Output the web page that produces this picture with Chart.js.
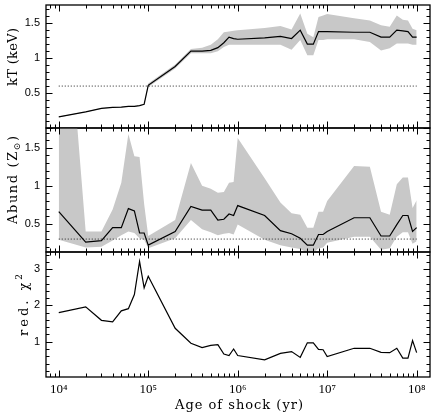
<!DOCTYPE html>
<html><head><meta charset="utf-8">
<script src="https://cdn.jsdelivr.net/npm/chart.js@4/dist/chart.umd.min.js"></script>
<style>
html,body{margin:0;padding:0;background:#fff;}
#wrap{position:relative;width:436px;height:418px;overflow:hidden;background:#fff;}
canvas{position:absolute;left:0;}
</style></head><body>
<div id="wrap">
<canvas id="c1" width="436" height="132" style="top:0px"></canvas>
<canvas id="c2" width="436" height="132" style="top:124px"></canvas>
<canvas id="c3" width="436" height="170" style="top:248px"></canvas>
</div>
<script>
// ---- data ----
const ages = [1e4,2e4,3e4,4e4,5e4,6e4,7e4,8e4,9e4,
              1e5,2e5,3e5,4e5,5e5,6e5,7e5,8e5,9e5,
              1e6,2e6,3e6,4e6,5e6,6e6,7e6,8e6,9e6,
              1e7,2e7,3e7,4e7,5e7,6e7,7e7,8e7,9e7,1e8];
const kT     = [0.16,0.23,0.28,0.295,0.30,0.31,0.31,0.32,0.34,
                0.61,0.88,1.10,1.10,1.11,1.15,1.22,1.30,1.28,
                1.27,1.29,1.31,1.28,1.40,1.20,1.20,1.38,1.38,
                1.38,1.37,1.37,1.30,1.30,1.40,1.39,1.38,1.30,1.30];
const kTLow  = [0.155,0.225,0.275,0.29,0.295,0.305,0.305,0.315,0.335,
                0.585,0.85,1.07,1.07,1.07,1.10,1.16,1.19,1.19,
                1.19,1.19,1.19,1.12,1.26,1.04,1.04,1.26,1.26,
                1.27,1.27,1.23,1.11,1.14,1.21,1.21,1.21,1.19,1.19];
const kTHigh = [0.165,0.235,0.285,0.30,0.305,0.315,0.315,0.325,0.345,
                0.635,0.91,1.13,1.15,1.19,1.27,1.37,1.38,1.39,
                1.40,1.43,1.46,1.41,1.64,1.35,1.30,1.59,1.61,
                1.63,1.57,1.54,1.47,1.45,1.61,1.55,1.54,1.42,1.40];
const abund     = [0.66,0.26,0.28,0.45,0.45,0.70,0.67,0.38,0.38,
                   0.22,0.40,0.73,0.68,0.68,0.55,0.56,0.63,0.61,
                   0.74,0.61,0.41,0.37,0.31,0.22,0.22,0.36,0.36,
                   0.40,0.58,0.58,0.34,0.34,0.49,0.61,0.61,0.40,0.45];
const abundLow  = [0.29,0.19,0.20,0.28,0.35,0.40,0.38,0.31,0.29,
                   0.18,0.31,0.55,0.43,0.39,0.35,0.37,0.38,0.36,
                   0.49,0.29,0.22,0.19,0.17,0.12,0.12,0.18,0.19,
                   0.25,0.33,0.33,0.16,0.18,0.33,0.39,0.39,0.24,0.27];
const abundHigh = [4.8,0.40,0.40,0.69,1.04,1.68,1.39,1.38,0.76,
                   0.34,0.55,1.30,1.00,0.96,0.91,0.92,1.04,1.05,
                   1.63,1.10,0.78,0.64,0.62,0.45,0.45,0.66,0.66,
                   0.80,1.26,1.25,0.66,0.62,1.02,1.11,1.11,0.71,0.81];
const redChi2 = [1.80,1.96,1.59,1.55,1.85,1.91,2.30,3.21,2.48,
                 2.80,1.37,0.96,0.84,0.90,0.92,0.66,0.62,0.80,
                 0.62,0.50,0.68,0.73,0.57,0.97,0.97,0.79,0.78,
                 0.59,0.82,0.82,0.71,0.70,0.82,0.55,0.55,1.03,0.70];
const refAges   = [1e4, 1e8];
const kTRef     = [0.6, 0.6];
const abundRef  = [0.3, 0.3];
const xTickValues = [1e4,1e5,1e6,1e7,1e8];
const xTickLabels = ['10⁴','10⁵','10⁶','10⁷','10⁸'];
const kTTickValues = [0.5,1,1.5];     const kTTickLabels = ['0.5','1','1.5'];
const abTickValues = [0.5,1,1.5];     const abTickLabels = ['0.5','1','1.5'];
const chiTickValues = [1,2,3];        const chiTickLabels = ['1','2','3'];

// ---- plugins ----
const frame = {
  id: 'frame',
  afterDatasetsDraw(chart, args, o) {
    const {ctx, chartArea: a} = chart; const x = chart.scales.x, y = chart.scales.y;
    ctx.save(); ctx.strokeStyle = '#000'; ctx.lineWidth = 1; ctx.beginPath();
    const lo = Math.floor(Math.log10(x.min)), hi = Math.ceil(Math.log10(x.max));
    for (let d = lo; d <= hi; d++) for (let m = 1; m <= 9; m++) {
      const v = m * Math.pow(10, d);
      if (v < x.min || v > x.max) continue;
      const p = Math.round(x.getPixelForValue(v)) + 0.5;
      const len = m === 1 ? o.major : o.minor;
      ctx.moveTo(p, a.top); ctx.lineTo(p, a.top + len);
      ctx.moveTo(p, a.bottom); ctx.lineTo(p, a.bottom - len);
    }
    for (let k = Math.ceil(y.min / o.yMinor - 1e-9); k * o.yMinor <= y.max + 1e-9; k++) {
      const v = k * o.yMinor; const p = Math.round(y.getPixelForValue(v)) + 0.5;
      const isMaj = Math.abs(v / o.yMajor - Math.round(v / o.yMajor)) < 1e-6;
      const len = isMaj ? o.major : o.minor;
      ctx.moveTo(a.left, p); ctx.lineTo(a.left + len, p);
      ctx.moveTo(a.right, p); ctx.lineTo(a.right - len, p);
    }
    ctx.stroke();
    ctx.lineWidth = 1.3;
    ctx.strokeRect(a.left, a.top, a.right - a.left, a.bottom - a.top);
    ctx.restore();
  }
};
const titles = {
  id: 'titles',
  afterDraw(chart, args, o) {
    const ctx = chart.ctx;
    (o.items || []).forEach(t => {
      ctx.save();
      ctx.translate(t.x, t.y);
      if (t.rotate) ctx.rotate(-Math.PI / 2);
      ctx.fillStyle = '#000'; ctx.textBaseline = 'middle'; ctx.textAlign = 'left';
      const base = t.size + 'px ' + t.family, small = Math.round(t.size * 0.7) + 'px ' + t.family;
      const chars = [];
      t.parts.forEach(p => { for (const c of p.text) { ctx.font = p.mode ? small : base; chars.push({c, mode: p.mode, w: ctx.measureText(c).width}); } });
      const natural = chars.reduce((s, c) => s + c.w, 0);
      const sp = (t.span - natural) / (chars.length - 1);
      let cx = -t.span / 2;
      chars.forEach(ch => {
        ctx.font = ch.mode ? small : base;
        const dy = ch.mode === 'sub' ? t.size * 0.3 : ch.mode === 'sup' ? -t.size * 0.38 : 0;
        ctx.fillText(ch.c, cx, dy);
        cx += ch.w + sp;
      });
      ctx.restore();
    });
  }
};

const pts = ys => ages.map((a, i) => ({x: a, y: ys[i]}));
const refPts = ys => refAges.map((a, i) => ({x: a, y: ys[i]}));
const GRAY = '#c8c8c8';

function xScale(show) {
  return {
    type: 'logarithmic', min: 7.2e3, max: 1.41e8, display: show,
    grid: {display: false, drawTicks: false}, border: {display: false},
    afterBuildTicks: s => { s.ticks = xTickValues.map(v => ({value: v, major: true})); },
    afterFit: s => { if (show) s.height = 41; s.paddingLeft = 0; s.paddingRight = 0; },
    ticks: {autoSkip: false, maxRotation: 0, padding: 5, color: '#000',
            font: {family: 'Liberation Serif', size: 13},
            callback: (v) => { const i = xTickValues.indexOf(v); return i >= 0 ? xTickLabels[i] : ''; }}
  };
}
function yScale(min, max, tv, tl) {
  return {
    type: 'linear', min, max, position: 'left',
    grid: {display: false, drawTicks: false}, border: {display: false},
    afterBuildTicks: s => { s.ticks = tv.map(v => ({value: v})); },
    afterFit: s => { s.width = 46; s.paddingTop = 0; s.paddingBottom = 0; },
    ticks: {padding: 6, color: '#000', font: {family: 'Liberation Sans', size: 11},
            callback: (v) => { const i = tv.indexOf(v); return i >= 0 ? tl[i] : ''; }}
  };
}
function bandSets(lo, hi, ref, main) {
  const ds = [
    {data: pts(lo), borderWidth: 0, pointRadius: 0, fill: false, order: 4},
    {data: pts(hi), borderWidth: 0, pointRadius: 0, fill: '-1', backgroundColor: GRAY, order: 3}
  ];
  if (ref) ds.push({data: refPts(ref), borderColor: '#222', borderWidth: 1, borderDash: [1, 2], pointRadius: 0, fill: false, order: 2});
  ds.push({data: pts(main), borderColor: '#000', borderWidth: 1.2, pointRadius: 0, fill: false, order: 1});
  return ds;
}
function make(id, datasets, ys, showX, padding, yTicks, titleItems) {
  return new Chart(document.getElementById(id), {
    type: 'line',
    data: {datasets},
    options: {
      responsive: false, animation: false, devicePixelRatio: 1, events: [],
      layout: {padding},
      elements: {line: {tension: 0}},
      scales: {x: xScale(showX), y: ys},
      plugins: {legend: {display: false}, tooltip: {enabled: false},
                frame: Object.assign({major: 6.5, minor: 3.5}, yTicks),
                titles: {items: titleItems}}
    },
    plugins: [frame, titles]
  });
}
const TF = 'DejaVu Serif';
make('c1', bandSets(kTLow, kTHigh, kTRef, kT), yScale(0, 1.76, kTTickValues, kTTickLabels), false,
  {top: 5, bottom: 4, left: 0, right: 6}, {yMinor: 0.1, yMajor: 0.5},
  [{parts: [{text: 'kT (keV)'}], x: 14, y: 57, span: 58, rotate: true, size: 13, family: TF}]);
make('c2', bandSets(abundLow, abundHigh, abundRef, abund), yScale(0.13, 1.76, abTickValues, abTickLabels), false,
  {top: 4, bottom: 4, left: 0, right: 6}, {yMinor: 0.1, yMajor: 0.5},
  [{parts: [{text: 'Abund (Z'}, {text: '⊙', mode: 'sub'}, {text: ')'}], x: 14, y: 56, span: 88, rotate: true, size: 13, family: TF}]);
make('c3', [{data: pts(redChi2), borderColor: '#000', borderWidth: 1.2, pointRadius: 0, fill: false}],
  yScale(0.03, 3.47, chiTickValues, chiTickLabels), true,
  {top: 4, bottom: 0, left: 0, right: 6}, {yMinor: 0.2, yMajor: 1},
  [{parts: [{text: 'red. '}, {text: 'χ'}, {text: '2', mode: 'sup'}], x: 25, y: 57, span: 62, rotate: true, size: 13, family: TF},
   {parts: [{text: 'Age of shock (yr)'}], x: 239, y: 158, span: 128, rotate: false, size: 13, family: TF}]);
</script>
</body></html>
